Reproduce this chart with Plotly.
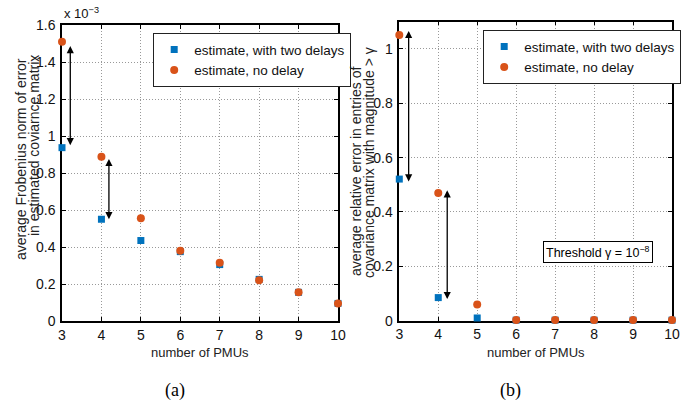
import plotly.graph_objects as go

pmus = [3, 4, 5, 6, 7, 8, 9, 10]

# (a) average Frobenius norm of error (x 1e-3)
a_two_delays = [0.937, 0.55, 0.435, 0.375, 0.305, 0.225, 0.155, 0.095]
a_no_delay = [1.51, 0.888, 0.555, 0.38, 0.315, 0.22, 0.155, 0.095]

# (b) average relative error in entries
b_two_delays = [0.521, 0.085, 0.01, 0.002, 0.002, 0.002, 0.002, 0.002]
b_no_delay = [1.051, 0.47, 0.06, 0.003, 0.003, 0.003, 0.003, 0.003]

x_ticks = [3, 4, 5, 6, 7, 8, 9, 10]
a_yticks = [0, 0.2, 0.4, 0.6, 0.8, 1.0, 1.2, 1.4, 1.6]
a_yticktext = ["0", "0.2", "0.4", "0.6", "0.8", "1", "1.2", "1.4", "1.6"]
b_yticks = [0, 0.2, 0.4, 0.6, 0.8, 1.0]
b_yticktext = ["0", "0.2", "0.4", "0.6", "0.8", "1"]

# arrows: (x, y_top, y_bottom)
a_arrows = [(3.21, 1.486, 0.942), (4.19, 0.876, 0.542)]
b_arrows = [(3.24, 1.066, 0.507), (4.23, 0.48, 0.074)]

BLUE = "#0072BD"
ORANGE = "#D95319"
SANS = "Liberation Sans"
SERIF = "Liberation Serif"

fig = go.Figure()

def add_pair(xref, yref, two, none, legend):
    fig.add_trace(go.Scatter(
        x=pmus, y=two, mode="markers", name="estimate, with two delays",
        marker=dict(symbol="square", size=7, color=BLUE),
        xaxis=xref, yaxis=yref, legend=legend, cliponaxis=False))
    fig.add_trace(go.Scatter(
        x=pmus, y=none, mode="markers", name="estimate, no delay",
        marker=dict(symbol="circle", size=8, color=ORANGE),
        xaxis=xref, yaxis=yref, legend=legend, cliponaxis=False))

add_pair("x", "y", a_two_delays, a_no_delay, "legend")
add_pair("x2", "y2", b_two_delays, b_no_delay, "legend2")

W, H = 697, 407
def px(v):
    return v / W
def py(v):
    return (H - v) / H

axis_common = dict(
    showline=True, linecolor="black", linewidth=1.5, mirror="ticks",
    ticks="inside", ticklen=4, tickcolor="black",
    showgrid=True, gridcolor="#999999", griddash="1px,2px", gridwidth=1,
    zeroline=False, layer="below traces", automargin=False,
    tickfont=dict(family=SANS, size=14, color="#111"),
)

legend_common = dict(
    xanchor="left", yanchor="top",
    bordercolor="#222", borderwidth=1.2, bgcolor="white",
    font=dict(family=SANS, size=13.5, color="#111"),
    tracegroupgap=0, itemwidth=30,
)

fig.update_layout(
    template="none",
    width=W, height=H,
    margin=dict(l=0, r=0, t=0, b=0, autoexpand=False),
    paper_bgcolor="white", plot_bgcolor="white",
    xaxis=dict(domain=[px(62), px(338)], range=[3, 10], tickvals=x_ticks,
               anchor="y", ticklabelstandoff=0, **axis_common),
    yaxis=dict(domain=[py(321), py(25)], range=[0, 1.6], tickvals=a_yticks,
               ticktext=a_yticktext, anchor="x", ticklabelstandoff=2, **axis_common),
    xaxis2=dict(domain=[px(399.3), px(672)], range=[3, 10], tickvals=x_ticks,
                anchor="y2", ticklabelstandoff=0, **axis_common),
    yaxis2=dict(domain=[py(320.7), py(21.7)], range=[0, 1.1], tickvals=b_yticks,
                ticktext=b_yticktext, anchor="x2", ticklabelstandoff=2, **axis_common),
    legend=dict(x=px(153), y=py(33), **legend_common),
    legend2=dict(x=px(483), y=py(30), **legend_common),
    showlegend=True,
)

annotations = []

def arrows(lst, xr, yr):
    for xa, yt, yb in lst:
        annotations.append(dict(
            x=xa, y=yt, ax=xa, ay=yb, xref=xr, yref=yr, axref=xr, ayref=yr,
            text="", showarrow=True, arrowhead=2, startarrowhead=2,
            arrowside="end+start", arrowsize=1.1, startarrowsize=1.1,
            arrowwidth=1.3, arrowcolor="black", standoff=0, startstandoff=0))

arrows(a_arrows, "x", "y")
arrows(b_arrows, "x2", "y2")

def label(x, y, text, font, angle=0, **kw):
    d = dict(x=px(x), y=py(y), xref="paper", yref="paper", text=text,
             showarrow=False, xanchor="center", yanchor="middle",
             textangle=angle, font=font)
    d.update(kw)
    annotations.append(d)

title_font = dict(family=SANS, size=13, color="#222")
ylab_font = dict(family=SANS, size=14, color="#222")

label(200, 352, "number of PMUs", title_font)
label(536, 352, "number of PMUs", title_font)
label(21, 159, "average Frobenius norm of error", ylab_font, -90)
label(34, 146, "in estimated coviarnce matrix", ylab_font, -90)
label(356, 172, "average relative error in entries of", ylab_font, -90)
label(369, 163, "covariance matrix with magnitude > γ", ylab_font, -90)
label(62, 23, "x 10<sup>−3</sup>", dict(family=SANS, size=13, color="#111"),
      xanchor="left", yanchor="bottom")
label(597.5, 252, "Threshold γ = 10<sup>−8</sup>",
      dict(family=SANS, size=12.5, color="black"),
      bordercolor="black", borderwidth=1, borderpad=2, bgcolor="white")
label(175.5, 390, "(a)", dict(family=SERIF, size=18, color="black"))
label(510, 390, "(b)", dict(family=SERIF, size=18, color="black"))

fig.update_layout(annotations=annotations)

fig.write_html(
    "out.html",
    config={"displayModeBar": False},
    post_script="document.body.style.margin='0';document.body.style.overflow='hidden';",
)
